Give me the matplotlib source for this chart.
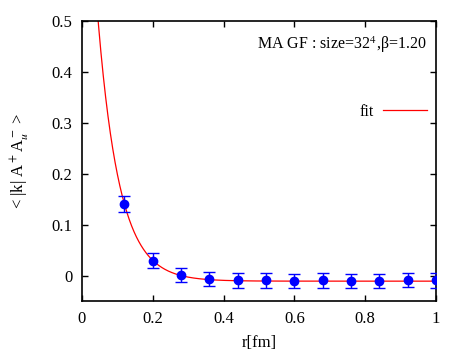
import numpy as np
import matplotlib
matplotlib.use("Agg")
import matplotlib.pyplot as plt

plt.rcParams['font.family'] = ['Liberation Serif', 'DejaVu Serif']
plt.rcParams['mathtext.fontset'] = 'stix'

# data points
r = [0.12, 0.20, 0.28, 0.36, 0.44, 0.52, 0.60, 0.68, 0.76, 0.84, 0.92, 1.00]
val = [0.140, 0.0295, 0.001, -0.0065, -0.0095, -0.0095, -0.011, -0.0095, -0.010, -0.011, -0.0092, -0.0095]
err = [0.016, 0.015, 0.014, 0.0135, 0.014, 0.014, 0.014, 0.014, 0.014, 0.014, 0.014, 0.014]

# fit parameters: A*exp(-r/lam) + c
fit_A = 1.08
fit_lam = 0.061
fit_c = -0.011

xticks = [0, 0.2, 0.4, 0.6, 0.8, 1.0]
xticklabels = ['0', '0.2', '0.4', '0.6', '0.8', '1']
yticks = [0, 0.1, 0.2, 0.3, 0.4, 0.5]
yticklabels = ['0', '0.1', '0.2', '0.3', '0.4', '0.5']

fig = plt.figure(figsize=(4.63, 3.54), dpi=100)
ax = fig.add_axes([0.1771, 0.1497, 0.7646, 0.791])

rr = np.linspace(0.0, 1.0, 600)
ax.plot(rr, fit_A * np.exp(-rr / fit_lam) + fit_c, color='#ff0000', lw=0.9, label='fit', zorder=2)
ax.errorbar(r, val, yerr=err, fmt='o', color='#0000ff', ms=6, capsize=4.5, elinewidth=1, capthick=1, zorder=3)

ax.set_xlim(0, 1)
ax.set_ylim(-0.05, 0.5)
ax.set_xticks(xticks)
ax.set_xticklabels(xticklabels)
ax.set_yticks(yticks)
ax.set_yticklabels(yticklabels)
ax.tick_params(direction='in', top=True, right=True, labelsize=12, length=4, width=1, pad=7)
for s in ax.spines.values():
    s.set_linewidth(1.2)

ax.set_xlabel('r[fm]', fontsize=12, labelpad=6)
ax.set_ylabel(r'< |k| A$^+$A$^-_u$ >', fontsize=12, labelpad=14)

ax.text(0.975, 0.915, r'MA GF : size=32$^4$,β=1.20', transform=ax.transAxes,
        ha='right', va='center', fontsize=11.5)

leg = ax.legend(loc='center right', bbox_to_anchor=(0.9746, 0.675), frameon=False, fontsize=11.5,
                markerfirst=False, handlelength=2.75, handletextpad=0.6,
                borderaxespad=0, borderpad=0)

fig.savefig('out.png', dpi=100)
